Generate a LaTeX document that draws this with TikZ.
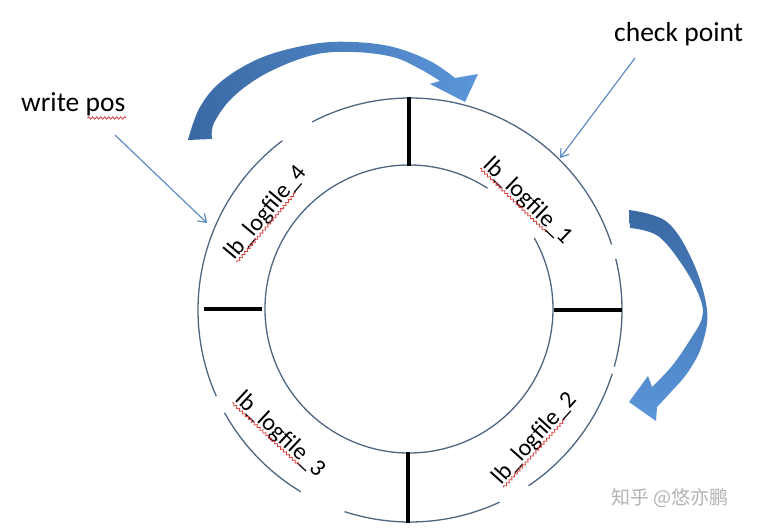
\documentclass[tikz,border=0pt]{standalone}
\usepackage{fontspec}
\setmainfont{Carlito}
\newfontfamily\cjk{Noto Sans CJK SC}
\usetikzlibrary{arrows.meta,decorations.pathmorphing,calc}
\definecolor{ringc}{HTML}{4F6680}
\definecolor{pointc}{HTML}{5E8CC4}
\definecolor{adark}{HTML}{3A69A3}
\definecolor{alight}{HTML}{5B96DA}
\definecolor{wavec}{HTML}{D84040}
\definecolor{wmc}{HTML}{B4B4B4}
\begin{document}
\begin{tikzpicture}[x=1pt,y=1pt,
  ring/.style={draw=ringc, line width=1.3pt},
  spoke/.style={draw=black, line width=3.5pt},
  pointer/.style={draw=pointc, line width=1.2pt, -{Straight Barb[angle=70:9pt]}},
  seglabel/.style={font=\fontsize{24}{28}\selectfont, inner sep=0pt, text height=16pt, text depth=0pt},
  callout/.style={font=\fontsize{27.5}{32}\selectfont, inner sep=0pt, anchor=base west},
  wavy/.style={draw=wavec, line width=0.8pt, decorate, decoration={snake, segment length=4pt, amplitude=1.2pt}}]
\useasboundingbox (0,0) rectangle (759,530);
\fill[white] (0,0) rectangle (759,530);

% rings
\coordinate (C) at (410,220);
\coordinate (Ci) at (409,221);
\foreach \a/\b in {-15.5/14, 18/117.5, 127/204, 209/239, 252/295, 304/342.5}
  \draw[ring] ($(C)+(\a:212)$) arc[start angle=\a, end angle=\b, radius=212];
\draw[ring] ($(Ci)+(57:144)$) arc[start angle=57, end angle=389.5, radius=144];

% spokes
\draw[spoke] (409,433) -- (409,364);
\draw[spoke] (408,78) -- (408,7);
\draw[spoke] (204,221) -- (262,221);
\draw[spoke] (554,220) -- (622,220);

% curved block arrows (pixel coordinates, y downwards)
\begin{scope}[yshift=530pt, yscale=-1]
\shade[left color=adark, right color=alight]
  plot[smooth, tension=0.6] coordinates {(188,140) (200,107) (223,80) (263,57) (313,44) (353,42) (393,47) (430,61) (455,78)}
  -- (478,74) -- (465,102) -- (430,84)
  -- plot[smooth, tension=0.6] coordinates {(440,81) (420,69) (393,57) (353,52) (313,55) (267,73) (233,97) (214,123) (212,139)}
  -- cycle;
\shade[top color=adark, bottom color=alight]
  plot[smooth, tension=0.6] coordinates {(629,210) (667,222) (693,262) (707,310) (702,345) (688,372) (670,393) (657,407)}
  -- (656,421) -- (629,402) -- (648,376)
  -- plot[smooth, tension=0.6] coordinates {(652,387) (672,366) (690,340) (702,318) (700,298) (683,266) (658,236) (630,228)}
  -- cycle;
\end{scope}

% callouts
\node[callout] (wp) at (21,418) {write pos};
\node[callout] (cp) at (614,488) {check point};
\draw[wavy] ($(wp.base east)+(-38,-6)$) -- ($(wp.base east)+(1,-6)$);
\coordinate (wpS) at (115,395);
\coordinate (wpE) at (207,307);
\coordinate (cpS) at (635,472);
\coordinate (cpE) at (560,372);
\draw[pointer] (wpS) -- (wpE);
\draw[pointer] (cpS) -- (cpE);

% segment labels
\node[seglabel, rotate=-44] (l1) at (529,330) {lb\_logfile\_1};
\node[seglabel, rotate=48] (l2) at (533.5,92.5) {lb\_logfile\_2};
\node[seglabel, rotate=-43] (l3) at (281.5,96.5) {lb\_logfile\_3};
\node[seglabel, rotate=50] (l4) at (265,318.5) {lb\_logfile\_4};
\foreach \n in {l1,l2,l3,l4}{
  \coordinate (\n-a) at ($(\n.south west)!3pt!-90:(\n.south east)$);
  \coordinate (\n-b) at ($(\n.south east)!3pt!90:(\n.south west)$);
  \draw[wavy] (\n-a) -- ($(\n-a)!0.8!(\n-b)$);
}

% watermark
\node[font=\cjk\fontsize{19}{22}\selectfont, text=wmc, inner sep=0pt] (wm) at (670,32) {知乎 @悠亦鹏};
\end{tikzpicture}
\end{document}
